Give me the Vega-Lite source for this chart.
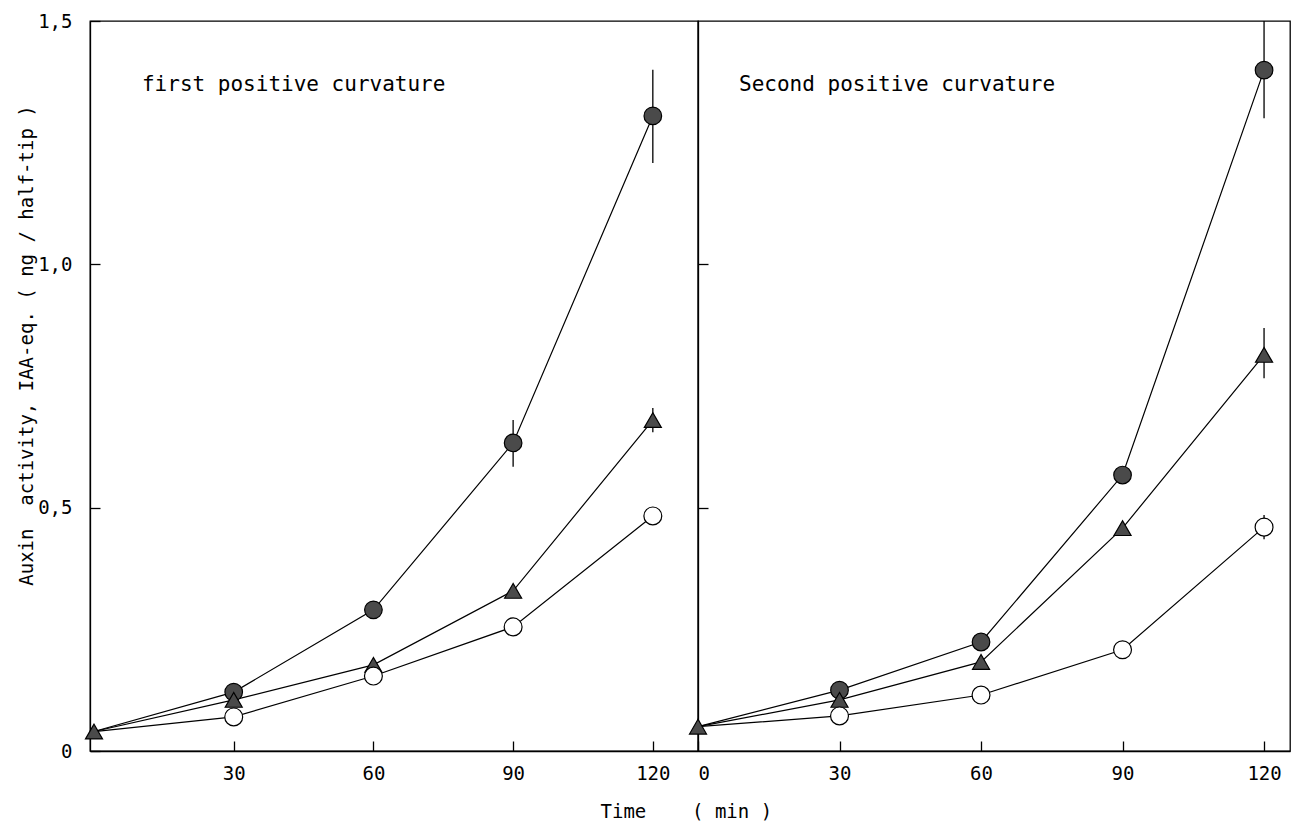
{
  "$schema": "https://vega.github.io/schema/vega-lite/v6.json",
  "background": "white",
  "padding": {"left": 16, "top": 11, "right": 9, "bottom": 5},
  "bounds": "flush",
  "spacing": 0,
  "config": {
    "font": "DejaVu Sans Mono",
    "view": {"stroke": "black", "strokeWidth": 1.3},
    "axis": {
      "grid": false,
      "domainColor": "black", "domainWidth": 1.3,
      "tickColor": "black", "tickWidth": 1.3, "tickSize": -10,
      "labelColor": "black", "labelFont": "DejaVu Sans Mono", "labelFontSize": 19,
      "titleColor": "black", "titleFont": "DejaVu Sans Mono", "titleFontSize": 19, "titleFontWeight": "normal"
    }
  },
  "datasets": {
    "pts": [
      {"p": "L", "s": "fil", "t": 0, "v": 0.04},
      {"p": "L", "s": "fil", "t": 30, "v": 0.121},
      {"p": "L", "s": "fil", "t": 60, "v": 0.29},
      {"p": "L", "s": "fil", "t": 90, "v": 0.633, "lo": 0.584, "hi": 0.68},
      {"p": "L", "s": "fil", "t": 120, "v": 1.305, "lo": 1.208, "hi": 1.4},
      {"p": "L", "s": "tri", "t": 0, "v": 0.04},
      {"p": "L", "s": "tri", "t": 30, "v": 0.105},
      {"p": "L", "s": "tri", "t": 60, "v": 0.177},
      {"p": "L", "s": "tri", "t": 90, "v": 0.329},
      {"p": "L", "s": "tri", "t": 120, "v": 0.68, "lo": 0.655, "hi": 0.705},
      {"p": "L", "s": "open", "t": 0, "v": 0.04},
      {"p": "L", "s": "open", "t": 30, "v": 0.07},
      {"p": "L", "s": "open", "t": 60, "v": 0.154},
      {"p": "L", "s": "open", "t": 90, "v": 0.255},
      {"p": "L", "s": "open", "t": 120, "v": 0.483},
      {"p": "R", "s": "fil", "t": 0, "v": 0.05},
      {"p": "R", "s": "fil", "t": 30, "v": 0.125},
      {"p": "R", "s": "fil", "t": 60, "v": 0.224},
      {"p": "R", "s": "fil", "t": 90, "v": 0.567},
      {"p": "R", "s": "fil", "t": 120, "v": 1.399, "lo": 1.3, "hi": 1.5},
      {"p": "R", "s": "tri", "t": 0, "v": 0.05},
      {"p": "R", "s": "tri", "t": 30, "v": 0.105},
      {"p": "R", "s": "tri", "t": 60, "v": 0.183},
      {"p": "R", "s": "tri", "t": 90, "v": 0.458},
      {"p": "R", "s": "tri", "t": 120, "v": 0.814, "lo": 0.766, "hi": 0.869},
      {"p": "R", "s": "open", "t": 0, "v": 0.05},
      {"p": "R", "s": "open", "t": 30, "v": 0.072},
      {"p": "R", "s": "open", "t": 60, "v": 0.115},
      {"p": "R", "s": "open", "t": 90, "v": 0.208},
      {"p": "R", "s": "open", "t": 120, "v": 0.46, "lo": 0.435, "hi": 0.485}
    ],
    "notes": [
      {"p": "L", "t": 10.3, "v": 1.368, "label": "first positive curvature"},
      {"p": "R", "t": 8.7, "v": 1.368, "label": "Second positive curvature"}
    ]
  },
  "hconcat": [
    {
      "width": 608,
      "height": 730,
      "data": {"name": "pts"},
      "transform": [{"filter": "datum.p == 'L'"}],
      "encoding": {
        "x": {"field": "t", "type": "quantitative",
          "scale": {"domain": [-0.86, 129.7], "nice": false, "zero": false},
          "axis": {"values": [30, 60, 90, 120], "labelPadding": 23,
            "title": "Time\u00a0\u00a0\u00a0\u00a0( min )", "titleX": 510, "titleY": 66,
            "titleAlign": "left", "titleBaseline": "alphabetic", "titleAnchor": null}},
        "y": {"field": "v", "type": "quantitative",
          "scale": {"domain": [0, 1.5], "nice": false},
          "axis": {"values": [0, 0.5, 1, 1.5], "labelPadding": 28,
            "labelExpr": "datum.value == 0 ? '0' : replace(format(datum.value, '.1f'), '.', ',')",
            "title": "Auxin\u00a0\u00a0activity, IAA-eq. ( ng / half-tip )", "titleX": -64, "titleY": 324,
            "titleAngle": -90, "titleAlign": "center", "titleBaseline": "middle", "titleAnchor": null}}
      },
      "layer": [
        {"mark": {"type": "line", "color": "black", "strokeWidth": 1.2},
         "encoding": {"detail": {"field": "s"}}},
        {"transform": [{"filter": "isValid(datum.lo)"}],
         "mark": {"type": "rule", "color": "black", "strokeWidth": 1.3},
         "encoding": {"y": {"field": "lo", "type": "quantitative"}, "y2": {"field": "hi"}}},
        {"transform": [{"filter": "datum.t > 0 || datum.s == 'tri'"}],
         "mark": {"type": "point", "filled": true, "stroke": "black", "strokeWidth": 1.2, "opacity": 1},
         "encoding": {
           "shape": {"field": "s", "type": "nominal", "scale": {"domain": ["fil", "tri", "open"], "range": ["circle", "triangle-up", "circle"]}, "legend": null},
           "fill": {"field": "s", "type": "nominal", "scale": {"domain": ["fil", "tri", "open"], "range": ["#4a4a4a", "#4a4a4a", "white"]}, "legend": null},
           "size": {"field": "s", "type": "nominal", "scale": {"type": "ordinal", "domain": ["fil", "tri", "open"], "range": [310, 290, 320]}, "legend": null}
         }},
        {"data": {"name": "notes"},
         "transform": [{"filter": "datum.p == 'L'"}],
         "mark": {"type": "text", "align": "left", "baseline": "middle", "fontSize": 21, "font": "DejaVu Sans Mono", "color": "black"},
         "encoding": {"text": {"field": "label"}}}
      ]
    },
    {
      "width": 592,
      "height": 730,
      "data": {"name": "pts"},
      "transform": [{"filter": "datum.p == 'R'"}],
      "encoding": {
        "x": {"field": "t", "type": "quantitative",
          "scale": {"domain": [0, 125.5], "nice": false, "zero": false},
          "axis": {"values": [0, 30, 60, 90, 120], "labelPadding": 23, "title": null}},
        "y": {"field": "v", "type": "quantitative",
          "scale": {"domain": [0, 1.5], "nice": false},
          "axis": {"values": [0.5, 1], "labels": false, "title": null}}
      },
      "layer": [
        {"mark": {"type": "line", "color": "black", "strokeWidth": 1.2},
         "encoding": {"detail": {"field": "s"}}},
        {"transform": [{"filter": "isValid(datum.lo)"}],
         "mark": {"type": "rule", "color": "black", "strokeWidth": 1.3},
         "encoding": {"y": {"field": "lo", "type": "quantitative"}, "y2": {"field": "hi"}}},
        {"transform": [{"filter": "datum.t > 0 || datum.s == 'tri'"}],
         "mark": {"type": "point", "filled": true, "stroke": "black", "strokeWidth": 1.2, "opacity": 1, "clip": false},
         "encoding": {
           "shape": {"field": "s", "type": "nominal", "scale": {"domain": ["fil", "tri", "open"], "range": ["circle", "triangle-up", "circle"]}, "legend": null},
           "fill": {"field": "s", "type": "nominal", "scale": {"domain": ["fil", "tri", "open"], "range": ["#4a4a4a", "#4a4a4a", "white"]}, "legend": null},
           "size": {"field": "s", "type": "nominal", "scale": {"type": "ordinal", "domain": ["fil", "tri", "open"], "range": [310, 290, 320]}, "legend": null}
         }},
        {"data": {"name": "notes"},
         "transform": [{"filter": "datum.p == 'R'"}],
         "mark": {"type": "text", "align": "left", "baseline": "middle", "fontSize": 21, "font": "DejaVu Sans Mono", "color": "black"},
         "encoding": {"text": {"field": "label"}}}
      ]
    }
  ]
}
